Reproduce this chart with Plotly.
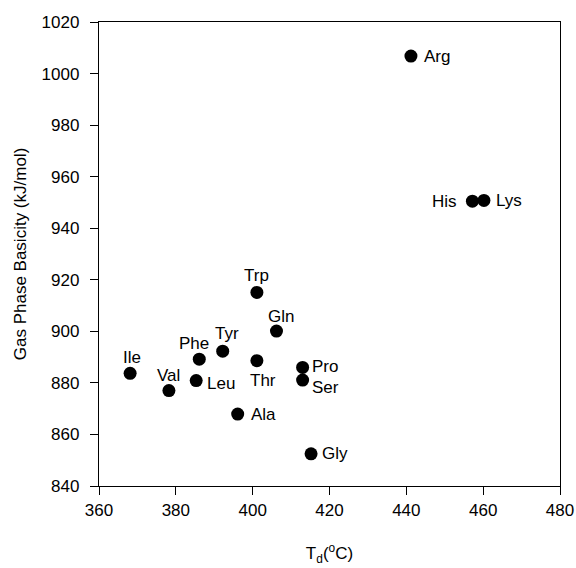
import plotly.graph_objects as go

# Data
amino_acids = ["Ile", "Val", "Leu", "Phe", "Tyr", "Ala", "Thr", "Trp", "Gln",
               "Pro", "Ser", "Gly", "Arg", "His", "Lys"]
td_celsius = [368.1, 378.2, 385.3, 386.1, 392.2, 396.1, 401.1, 401.1, 406.2,
              413.0, 413.0, 415.2, 441.2, 457.2, 460.2]
gas_phase_basicity = [883.7, 877.0, 880.9, 889.2, 892.3, 867.9, 888.6, 915.1, 900.1,
                      886.0, 881.1, 852.5, 1006.8, 950.5, 950.8]

x_ticks = [360, 380, 400, 420, 440, 460, 480]
y_ticks = [840, 860, 880, 900, 920, 940, 960, 980, 1000, 1020]

# Label placement (pixel offsets, anchors) - styling only
label_style = {
    "Ile": (2, 16, "center"),
    "Val": (0, 15, "center"),
    "Leu": (9, -3, "left"),
    "Phe": (-5, 16, "center"),
    "Tyr": (4, 18, "center"),
    "Ala": (11, 0, "left"),
    "Thr": (6, -20, "center"),
    "Trp": (0, 17, "center"),
    "Gln": (5, 15, "center"),
    "Pro": (7, 1, "left"),
    "Ser": (7, -7, "left"),
    "Gly": (9, 0, "left"),
    "Arg": (11, 0, "left"),
    "His": (-13, 0, "right"),
    "Lys": (10, 0, "left"),
}

FONT = "Liberation Sans, Arial, sans-serif"

fig = go.Figure()
fig.add_trace(go.Scatter(
    x=td_celsius, y=gas_phase_basicity, mode="markers",
    marker=dict(size=13, color="black", line=dict(width=0)),
    hoverinfo="text", text=amino_acids, showlegend=False,
))

for name, xv, yv in zip(amino_acids, td_celsius, gas_phase_basicity):
    dx, dy, anchor = label_style[name]
    fig.add_annotation(
        x=xv, y=yv, text=name, showarrow=False,
        xanchor=anchor, yanchor="middle", xshift=dx, yshift=dy,
        font=dict(family=FONT, size=17, color="black"),
    )

axis_common = dict(
    showline=True, linecolor="black", linewidth=1.3, mirror=True,
    ticks="outside", ticklen=8, tickwidth=1, tickcolor="black",
    showgrid=False, zeroline=False, automargin=False,
    tickfont=dict(family=FONT, size=17, color="black"),
)

fig.update_xaxes(
    range=[360, 480], tickvals=x_ticks, ticktext=[str(v) for v in x_ticks],
    title=dict(text="T<sub>d</sub>(<sup>o</sup>C)", standoff=28,
               font=dict(family=FONT, size=17, color="black")),
    **axis_common,
)
fig.update_yaxes(
    range=[840, 1020], tickvals=y_ticks, ticktext=[str(v) for v in y_ticks],
    ticklabelstandoff=7,
    title=dict(text="Gas Phase Basicity (kJ/mol)", standoff=10,
               font=dict(family=FONT, size=17, color="black")),
    **axis_common,
)

fig.update_layout(
    width=576, height=568,
    margin=dict(l=99, r=16, t=22, b=82),
    paper_bgcolor="white", plot_bgcolor="white",
    font=dict(family=FONT, color="black"),
)

fig.write_html("out.html")
